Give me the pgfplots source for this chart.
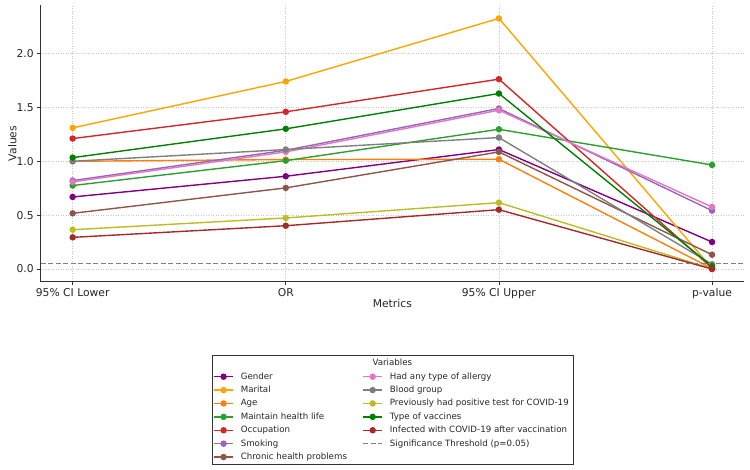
\documentclass[border=0pt]{standalone}
\usepackage{pgfplots}
\pgfplotsset{compat=1.18}
\usepackage{fontspec}
\setmainfont{DejaVu Sans}
\definecolor{cGender}{HTML}{800080}
\definecolor{cMarital}{HTML}{FFA500}
\definecolor{cAge}{HTML}{FF7F0E}
\definecolor{cMaintain}{HTML}{2CA02C}
\definecolor{cOccupation}{HTML}{D62728}
\definecolor{cSmoking}{HTML}{9467BD}
\definecolor{cChronic}{HTML}{8C564B}
\definecolor{cAllergy}{HTML}{E377C2}
\definecolor{cBlood}{HTML}{7F7F7F}
\definecolor{cPrev}{HTML}{BCBD22}
\definecolor{cVacc}{HTML}{008000}
\definecolor{cInfected}{HTML}{A52A2A}
\definecolor{cThresh}{HTML}{808080}
\definecolor{cText}{HTML}{262626}
\tikzset{ser/.style={line width=1.4bp, mark=*, mark size=2.5bp, mark options={solid}}}
\begin{document}
\begin{tikzpicture}
\begin{axis}[
  name=ax,
  scale only axis, width=703.3bp, height=276.2bp,
  xmin=-0.15, xmax=3.15, ymin=-0.1165, ymax=2.4465,
  axis lines=left, axis line style={-, black!80, line width=0.8bp},
  xtick={0,1,2,3},
  xticklabels={95\% CI Lower, OR, 95\% CI Upper, p-value},
  ytick={0,0.5,1,1.5,2},
  yticklabel style={/pgf/number format/.cd, fixed, fixed zerofill, precision=1, assume math mode=true},
  ticklabel style={font=\fontsize{10.8}{13}\selectfont, text=cText},
  tick align=outside, major tick length=3.5bp, tick style={black!80, line width=0.8bp},
  grid=major, grid style={black!22, dash pattern=on 1bp off 1.5bp, line width=0.6bp},
  xlabel={Metrics}, ylabel={Values},
  label style={font=\fontsize{10.8}{13}\selectfont, text=cText},
  xlabel style={at={([yshift=-21.4bp]axis description cs:0.5,0)}, anchor=center},
  ylabel style={at={([xshift=-28.4bp]axis description cs:0,0.5)}, anchor=center},
  legend columns=2,
  legend cell align=left,
  legend image code/.code={\draw[mark repeat=2,mark phase=2,#1] plot coordinates {(0bp,0bp) (9.5bp,0bp) (19bp,0bp)};},
  legend style={draw=none, fill=none, font=\fontsize{8.7}{10}\selectfont, text=cText,
    at={([xshift=169.5bp, yshift=-88.9bp]axis description cs:0,0)}, anchor=north west,
    nodes={inner sep=0pt}, row sep=5.4bp,
    /tikz/every odd column/.append style={column sep=7bp},
    /tikz/every even column/.append style={column sep=15.5bp, text height=6.5bp, text depth=2bp}},
]
\addplot[ser, cGender, forget plot] coordinates {(0,0.669) (1,0.861) (2,1.109) (3,0.251)};
\addplot[ser, cMarital, forget plot] coordinates {(0,1.310) (1,1.741) (2,2.326) (3,0.005)};
\addplot[ser, cAge, forget plot] coordinates {(0,1.000) (1,1.016) (2,1.019) (3,0.005)};
\addplot[ser, cMaintain, forget plot] coordinates {(0,0.775) (1,1.006) (2,1.297) (3,0.966)};
\addplot[ser, cOccupation, forget plot] coordinates {(0,1.211) (1,1.459) (2,1.762) (3,0.010)};
\addplot[ser, cSmoking, forget plot] coordinates {(0,0.821) (1,1.102) (2,1.490) (3,0.542)};
\addplot[ser, cChronic, forget plot] coordinates {(0,0.517) (1,0.753) (2,1.087) (3,0.133)};
\addplot[ser, cAllergy, forget plot] coordinates {(0,0.809) (1,1.087) (2,1.474) (3,0.576)};
\addplot[ser, cBlood, forget plot] coordinates {(0,1.000) (1,1.109) (2,1.220) (3,0.045)};
\addplot[ser, cPrev, forget plot] coordinates {(0,0.365) (1,0.474) (2,0.616) (3,0.003)};
\addplot[ser, cVacc, forget plot] coordinates {(0,1.034) (1,1.301) (2,1.629) (3,0.025)};
\addplot[ser, cInfected, forget plot] coordinates {(0,0.294) (1,0.402) (2,0.551) (3,0.000)};
\addplot[cThresh, line width=1.1bp, dash pattern=on 5bp off 2.5bp, forget plot] coordinates {(-0.15,0.05) (3.15,0.05)};
\addlegendimage{ser, cGender}\addlegendentry{Gender}
\addlegendimage{ser, cAllergy}\addlegendentry{Had any type of allergy}
\addlegendimage{ser, cMarital}\addlegendentry{Marital}
\addlegendimage{ser, cBlood}\addlegendentry{Blood group}
\addlegendimage{ser, cAge}\addlegendentry{Age}
\addlegendimage{ser, cPrev}\addlegendentry{Previously had positive test for COVID-19}
\addlegendimage{ser, cMaintain}\addlegendentry{Maintain health life}
\addlegendimage{ser, cVacc}\addlegendentry{Type of vaccines}
\addlegendimage{ser, cOccupation}\addlegendentry{Occupation}
\addlegendimage{ser, cInfected}\addlegendentry{Infected with COVID-19 after vaccination}
\addlegendimage{ser, cSmoking}\addlegendentry{Smoking}
\addlegendimage{cThresh, line width=1.1bp, dash pattern=on 5bp off 2.5bp}\addlegendentry{Significance Threshold (p=0.05)}
\addlegendimage{ser, cChronic}\addlegendentry{Chronic health problems}
\end{axis}
\draw[black!80, line width=0.8bp] ([xshift=171.3bp, yshift=-73.4bp]ax.south west) rectangle ([xshift=532.3bp, yshift=-182.4bp]ax.south west);
\node[font=\fontsize{8.7}{10}\selectfont, text=cText] at ([xshift=351.65bp, yshift=-80.4bp]ax.south west) {Variables};
\pgfresetboundingbox
\useasboundingbox ([xshift=-40.7bp, yshift=-188.4bp]ax.south west) rectangle ([xshift=6bp, yshift=5.4bp]ax.north east);
\end{tikzpicture}
\end{document}
